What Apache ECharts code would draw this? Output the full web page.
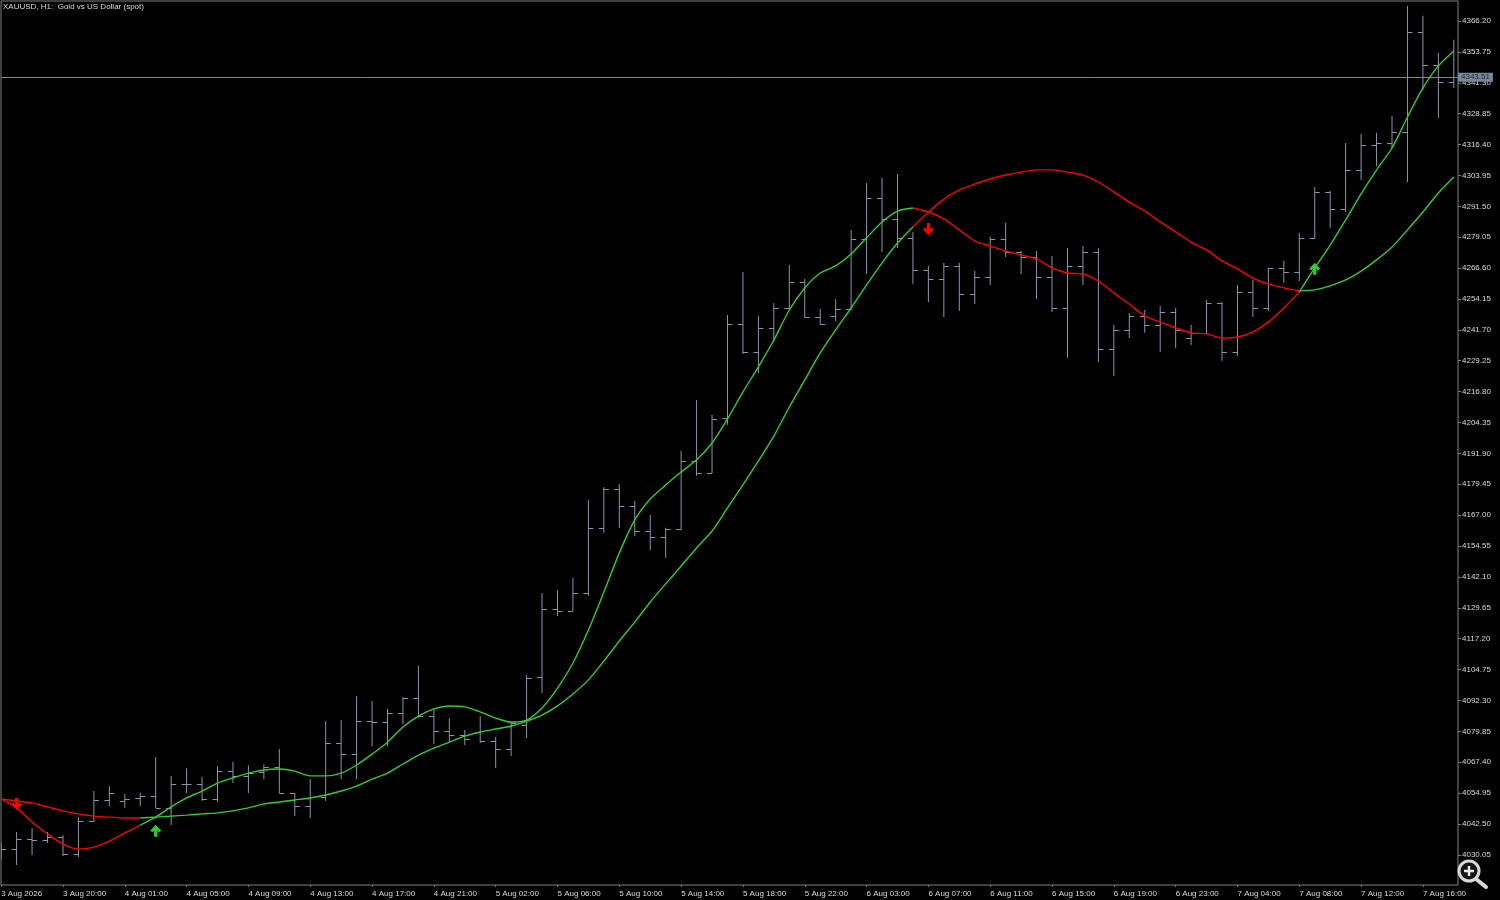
<!DOCTYPE html>
<html>
<head>
<meta charset="utf-8">
<title>XAUUSD H1</title>
<style>html,body{margin:0;padding:0;background:#000}#c{width:1500px;height:900px}</style>
<script src="https://cdn.jsdelivr.net/npm/echarts@6/dist/echarts.min.js"></script>
</head>
<body>
<div id="c"></div>
<script>
const titleText = 'XAUUSD, H1:  Gold vs US Dollar (spot)';
const currentPrice = 4343.51;
const xTickLabels = ['3 Aug 2026','3 Aug 20:00','4 Aug 01:00','4 Aug 05:00','4 Aug 09:00','4 Aug 13:00','4 Aug 17:00','4 Aug 21:00','5 Aug 02:00','5 Aug 06:00','5 Aug 10:00','5 Aug 14:00','5 Aug 18:00','5 Aug 22:00','6 Aug 03:00','6 Aug 07:00','6 Aug 11:00','6 Aug 15:00','6 Aug 19:00','6 Aug 23:00','7 Aug 04:00','7 Aug 08:00','7 Aug 12:00','7 Aug 16:00'];
const xTickEvery = 4;
const yTicks = [4030.05,4042.50,4054.95,4067.40,4079.85,4092.30,4104.75,4117.20,4129.65,4142.10,4154.55,4167.00,4179.45,4191.90,4204.35,4216.80,4229.25,4241.70,4254.15,4266.60,4279.05,4291.50,4303.95,4316.40,4328.85,4341.30,4353.75,4366.20];

const opens = [4032.0,4032.4,4036.4,4036.0,4037.2,4030.4,4043.7,4052.2,4051.8,4053.0,4053.8,4049.0,4058.7,4058.7,4052.6,4063.8,4061.9,4063.4,4065.4,4055.0,4049.8,4053.4,4075.1,4070.7,4084.0,4083.6,4087.3,4093.3,4086.0,4080.0,4078.4,4079.6,4075.9,4072.7,4082.4,4101.7,4129.2,4128.4,4135.6,4161.9,4177.5,4170.7,4160.6,4158.2,4161.4,4188.9,4184.0,4206.2,4244.1,4232.8,4242.5,4250.5,4261.0,4246.9,4247.3,4250.1,4278.4,4294.8,4286.4,4278.8,4265.9,4262.2,4267.5,4256.2,4263.0,4278.4,4273.1,4271.1,4263.0,4250.5,4267.5,4273.1,4234.0,4241.7,4247.3,4243.7,4248.9,4238.4,4240.5,4252.5,4232.8,4257.0,4250.5,4266.7,4265.0,4278.8,4297.3,4290.4,4306.2,4316.2,4317.0,4321.5,4361.8,4348.5,4341.6];
const highs = [4034.8,4039.3,4040.9,4039.3,4038.0,4045.3,4055.8,4057.8,4054.6,4055.0,4069.5,4061.9,4065.0,4061.5,4065.8,4067.5,4066.2,4066.6,4072.7,4055.0,4060.6,4084.0,4084.4,4094.1,4092.1,4088.9,4093.7,4106.2,4088.9,4085.2,4080.4,4086.0,4077.6,4083.6,4102.5,4135.6,4136.8,4141.7,4173.1,4178.3,4179.6,4172.7,4167.1,4161.9,4192.9,4213.4,4207.4,4247.7,4265.0,4247.3,4252.5,4267.9,4262.2,4250.1,4254.1,4282.0,4300.9,4302.9,4304.5,4281.2,4267.5,4268.7,4268.7,4265.4,4279.2,4284.8,4273.5,4273.5,4271.5,4274.7,4275.5,4274.7,4243.7,4248.5,4249.7,4251.3,4250.5,4243.7,4253.7,4252.9,4259.8,4261.8,4266.7,4269.5,4280.8,4299.3,4297.7,4317.0,4320.7,4321.1,4327.9,4372.3,4368.3,4353.3,4358.6];
const lows = [4028.0,4026.0,4030.0,4034.8,4029.6,4029.2,4043.3,4049.8,4049.0,4049.8,4049.0,4042.1,4055.0,4051.8,4051.4,4059.0,4055.0,4060.6,4055.0,4045.7,4044.9,4051.8,4060.6,4060.6,4073.9,4073.9,4082.8,4085.2,4074.7,4075.5,4074.3,4075.1,4065.1,4069.9,4077.2,4095.3,4126.4,4128.4,4134.4,4159.9,4161.9,4158.6,4153.0,4149.8,4161.0,4182.8,4184.0,4203.4,4232.0,4224.3,4236.8,4249.7,4246.5,4244.1,4245.3,4249.7,4264.2,4273.1,4274.7,4260.2,4252.9,4246.9,4249.3,4252.1,4259.8,4271.1,4264.2,4254.1,4248.9,4230.4,4259.8,4228.8,4223.1,4238.4,4240.5,4232.8,4234.4,4235.6,4240.1,4229.2,4231.2,4246.9,4249.3,4260.6,4261.4,4278.4,4282.8,4289.2,4302.1,4307.8,4315.0,4301.3,4338.4,4327.1,4339.2];
const closes = [4032.4,4036.4,4036.0,4037.2,4030.4,4043.7,4052.2,4055.0,4052.6,4053.8,4049.0,4058.7,4058.7,4052.6,4063.8,4061.9,4063.0,4065.4,4055.0,4049.8,4053.4,4075.1,4070.7,4084.0,4083.6,4087.3,4093.3,4086.0,4080.0,4078.4,4076.8,4075.9,4072.7,4083.2,4101.3,4129.2,4128.4,4135.6,4161.9,4177.5,4170.7,4160.6,4158.2,4161.4,4188.9,4184.0,4205.8,4244.1,4232.8,4242.5,4250.5,4261.0,4246.9,4244.1,4250.1,4278.4,4294.8,4286.4,4278.8,4265.9,4262.2,4267.5,4256.2,4263.0,4278.4,4273.1,4271.1,4263.0,4250.5,4267.5,4273.1,4234.0,4241.7,4247.3,4243.7,4248.9,4241.7,4240.5,4252.5,4232.8,4257.0,4250.5,4266.7,4265.0,4278.8,4297.3,4290.4,4306.2,4316.2,4317.0,4321.5,4361.8,4348.5,4341.6,4343.5];

const fastLine = [4052.6,4049.0,4043.3,4038.5,4034.4,4032.4,4033.2,4035.6,4038.9,4042.1,4045.3,4049.4,4053.0,4055.8,4059.0,4061.1,4063.0,4064.3,4064.7,4063.8,4061.9,4061.9,4063.0,4066.3,4070.7,4075.5,4081.6,4086.0,4088.9,4090.1,4089.7,4087.7,4085.2,4083.6,4084.4,4089.3,4097.3,4107.4,4120.7,4136.0,4151.8,4165.1,4173.5,4179.2,4184.4,4189.3,4196.1,4205.8,4216.7,4226.8,4237.6,4249.7,4258.6,4264.6,4267.5,4272.3,4278.8,4285.2,4289.6,4290.8,4289.2,4286.4,4282.0,4277.6,4275.5,4273.5,4271.9,4270.3,4266.7,4264.6,4264.2,4261.4,4256.6,4252.1,4247.3,4244.9,4242.5,4240.5,4240.1,4238.4,4238.8,4240.9,4244.9,4250.5,4257.0,4266.7,4275.9,4286.0,4296.5,4306.2,4315.0,4327.5,4339.2,4348.1,4354.1];
const slowLine = [4052.6,4051.8,4051.0,4049.4,4047.8,4046.6,4045.7,4045.3,4044.9,4044.9,4045.3,4045.7,4046.1,4046.6,4047.0,4047.8,4049.0,4050.6,4051.4,4052.2,4053.0,4054.2,4055.8,4057.8,4060.6,4063.0,4066.7,4070.3,4073.1,4075.5,4077.9,4079.6,4080.8,4082.0,4084.0,4086.4,4090.1,4094.9,4100.6,4108.2,4116.3,4123.9,4132.0,4139.3,4146.5,4153.8,4160.6,4169.9,4179.2,4188.9,4198.9,4210.6,4221.5,4232.4,4241.7,4250.5,4259.8,4268.7,4276.7,4283.2,4289.2,4294.4,4298.1,4300.5,4302.5,4304.1,4305.3,4306.2,4306.2,4305.3,4304.1,4301.3,4297.3,4293.2,4289.6,4285.2,4281.2,4277.1,4273.9,4269.5,4266.3,4262.6,4260.2,4258.6,4257.4,4257.8,4259.4,4261.8,4265.4,4269.9,4275.1,4282.0,4289.2,4296.9,4303.3];

const redRanges = [[0,9],[59,84]];
const greenRanges = [[9,59],[84,94]];
const downArrows = [[1,4050.6],[60,4282.4]];
const upArrows = [[10,4039.8],[85,4266.3]];

const RED = '#ff0000', GREEN = '#32cd32', BAR = '#8a97ab', FRAME = '#808080', TEXT = '#dcdcdc';
const FONT = '"Liberation Sans", Arial, sans-serif';
const ARROW = 'path://M5.5,0 L11,6 L8.6,7.6 L7.1,5.8 L7.1,12 L3.9,12 L3.9,5.8 L2.4,7.6 L0,6 Z';

const barData = opens.map((o, i) => [i, o, highs[i], lows[i], closes[i]]);
const xTickValues = xTickLabels.map((_, i) => i * xTickEvery);

function renderBar(params, api) {
  const x = api.value(0);
  const pO = api.coord([x, api.value(1)]);
  const pH = api.coord([x, api.value(2)]);
  const pL = api.coord([x, api.value(3)]);
  const pC = api.coord([x, api.value(4)]);
  const style = { stroke: BAR, lineWidth: 1, fill: null };
  const oy = Math.round(pO[1]) + 0.5, cy = Math.round(pC[1]) + 0.5;
  return {
    type: 'group',
    children: [
      { type: 'line', shape: { x1: pH[0], y1: pH[1], x2: pL[0], y2: pL[1] }, style },
      { type: 'line', shape: { x1: pO[0] - 5, y1: oy, x2: pO[0], y2: oy }, style },
      { type: 'line', shape: { x1: pC[0], y1: cy, x2: pC[0] + 5, y2: cy }, style }
    ]
  };
}

function lineSeries(values, ranges, color) {
  return ranges.map(r => ({
    type: 'line',
    silent: true,
    z: 5,
    symbol: 'none',
    smooth: 0.25,
    lineStyle: { color, width: 1.4 },
    data: values.map((v, i) => [i, v]).slice(r[0], r[1] + 1)
  }));
}

const series = [
  {
    type: 'custom',
    silent: true,
    clip: true,
    z: 2,
    renderItem: renderBar,
    encode: { x: 0, y: [1, 2, 3, 4] },
    data: barData,
    markLine: {
      silent: true,
      symbol: 'none',
      z: 3,
      lineStyle: { color: '#7d8896', width: 1, type: 'solid' },
      label: {
        show: true,
        position: 'end',
        distance: 0,
        formatter: () => currentPrice.toFixed(2),
        fontFamily: FONT,
        fontSize: 8,
        color: '#202833',
        backgroundColor: '#77879b',
        padding: [1, 3, 0, 3]
      },
      data: [{ yAxis: currentPrice }]
    }
  },
  ...lineSeries(fastLine, redRanges, RED),
  ...lineSeries(fastLine, greenRanges, GREEN),
  ...lineSeries(slowLine, redRanges, RED),
  ...lineSeries(slowLine, greenRanges, GREEN),
  { type: 'scatter', silent: true, z: 6, symbol: ARROW, symbolSize: [11, 12], symbolRotate: 180, itemStyle: { color: RED, opacity: 1 }, data: downArrows },
  { type: 'scatter', silent: true, z: 6, symbol: ARROW, symbolSize: [11, 12], itemStyle: { color: GREEN, opacity: 1 }, data: upArrows }
];

const chart = echarts.init(document.getElementById('c'), null, { renderer: 'canvas', width: 1500, height: 900 });
chart.setOption({
  animation: false,
  backgroundColor: '#000000',
  tooltip: { show: false },
  title: {
    text: titleText,
    left: 3,
    top: 3,
    padding: 0,
    textStyle: { color: TEXT, fontFamily: FONT, fontSize: 8, fontWeight: 'normal' }
  },
  grid: { show: true, left: 1, top: 1, right: 42, height: 884, outerBoundsMode: 'none', containLabel: false, backgroundColor: '#000', borderColor: FRAME, borderWidth: 1 },
  xAxis: {
    type: 'value',
    min: -0.01,
    max: 94.27,
    splitLine: { show: false },
    axisLine: { show: false, onZero: false },
    axisTick: { show: true, length: 2, lineStyle: { color: FRAME }, customValues: xTickValues },
    axisLabel: {
      show: true,
      customValues: xTickValues,
      formatter: v => xTickLabels[Math.round(v / xTickEvery)],
      color: TEXT,
      fontFamily: FONT,
      fontSize: 8,
      align: 'left',
      margin: 5
    }
  },
  yAxis: {
    type: 'value',
    position: 'right',
    min: 4017.92,
    max: 4374.26,
    splitLine: { show: false },
    axisLine: { show: false, onZero: false },
    axisTick: { show: true, length: 3, lineStyle: { color: FRAME }, customValues: yTicks },
    axisLabel: {
      show: true,
      customValues: yTicks,
      formatter: v => v.toFixed(2),
      color: TEXT,
      fontFamily: FONT,
      fontSize: 8,
      margin: 4,
      padding: [2, 0, 0, 0]
    }
  },
  graphic: [
    { type: 'line', z: 100, shape: { x1: 1476, y1: 879, x2: 1487, y2: 888 }, style: { stroke: '#000', lineWidth: 7, lineCap: 'round' } },
    { type: 'line', z: 101, shape: { x1: 1476, y1: 879, x2: 1486, y2: 887 }, style: { stroke: '#d8d8d8', lineWidth: 4, lineCap: 'round' } },
    { type: 'circle', z: 101, shape: { cx: 1469, cy: 871, r: 10 }, style: { fill: '#151515', stroke: '#d8d8d8', lineWidth: 3 } },
    { type: 'line', z: 102, shape: { x1: 1464, y1: 871, x2: 1474, y2: 871 }, style: { stroke: '#e8e8e8', lineWidth: 2.5 } },
    { type: 'line', z: 102, shape: { x1: 1469, y1: 866, x2: 1469, y2: 876 }, style: { stroke: '#e8e8e8', lineWidth: 2.5 } }
  ],
  series
});
</script>
</body>
</html>
